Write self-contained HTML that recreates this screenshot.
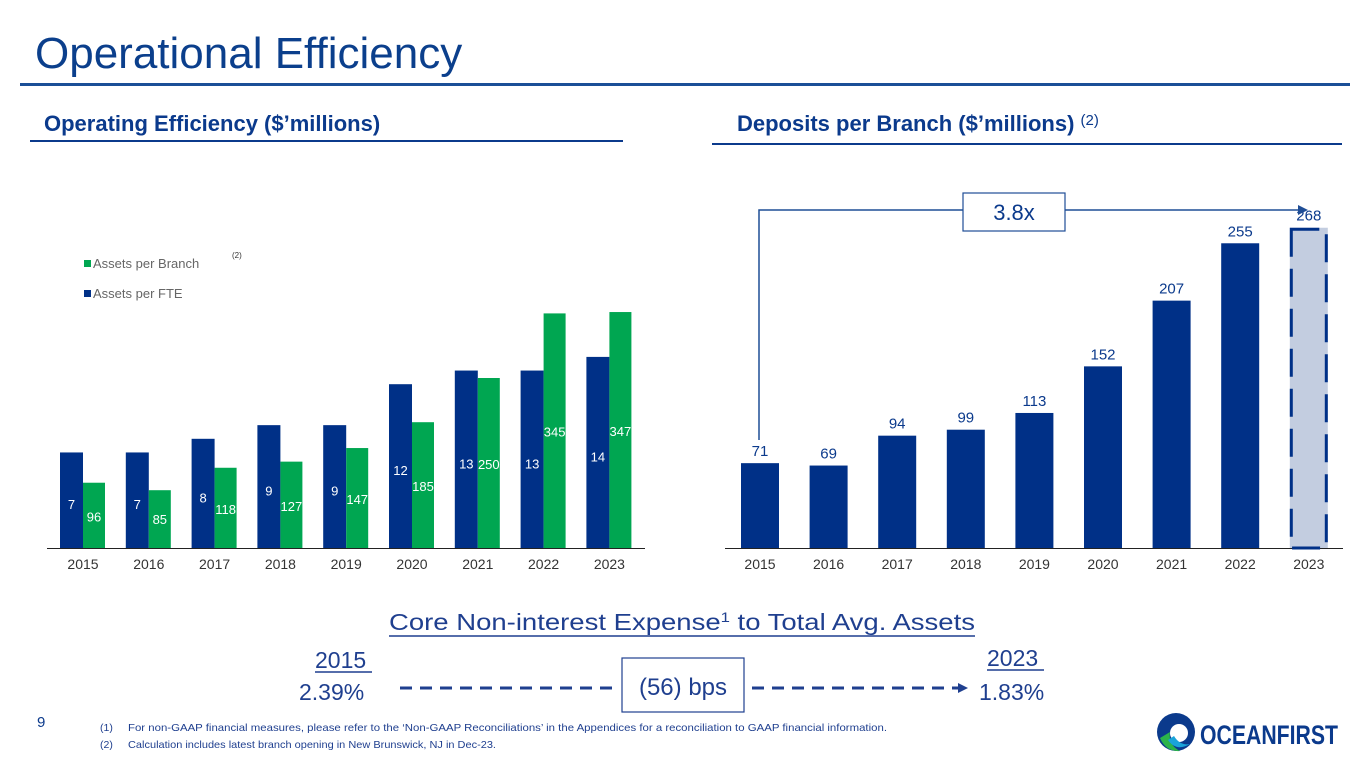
<!DOCTYPE html>
<html><head><meta charset="utf-8"><style>
body{margin:0;width:1365px;height:768px;overflow:hidden;background:#fff;font-family:"Liberation Sans",sans-serif;}
svg{position:absolute;left:0;top:0}
</style></head><body>
<svg width="1365" height="768" id="s" font-family="Liberation Sans, sans-serif">
<text x="35" y="68" font-size="44" fill="#0b3f8c">Operational Efficiency</text>
<rect x="20" y="83" width="1330" height="3" fill="#1b4f97"/>
<text x="44" y="131" font-size="22" font-weight="bold" fill="#0b3a8c">Operating Efficiency ($’millions)</text>
<rect x="30" y="140" width="593" height="2" fill="#0b3a8c"/>
<text x="737" y="131" font-size="22" font-weight="bold" fill="#0b3a8c">Deposits per Branch ($’millions) <tspan font-size="15" font-weight="normal" dy="-6">(2)</tspan></text>
<rect x="712" y="143" width="630" height="2" fill="#0b3a8c"/>

<g>
<rect x="84" y="260" width="7" height="7" fill="#00a651"/>
<text x="93" y="268" font-size="13" fill="#666">Assets per Branch</text>
<text x="232" y="258" font-size="8" fill="#333">(2)</text>
<rect x="84" y="290" width="7" height="7" fill="#003087"/>
<text x="93" y="298" font-size="13" fill="#666">Assets per FTE</text>
</g>
<g id="left"></g>
<g id="right"></g>

<g>
<polyline points="759,440 759,210 1300,210" fill="none" stroke="#1f4e96" stroke-width="1.5"/>
<polygon points="1308,210 1298,205 1298,215" fill="#1f4e96"/>
<rect x="963" y="193" width="102" height="38" fill="#fff" stroke="#1f4e96" stroke-width="1.2"/>
<text x="1014" y="220" font-size="22" fill="#0b3a8c" text-anchor="middle">3.8x</text>
</g>

<g>
<text x="389" y="630" font-size="23" fill="#1f3f8f" textLength="586" lengthAdjust="spacingAndGlyphs">Core Non-interest Expense<tspan font-size="14" dy="-8">1</tspan><tspan dy="8"> to Total Avg. Assets</tspan></text>
<line x1="389" y1="636" x2="975" y2="636" stroke="#1f3f8f" stroke-width="1.5"/>
<text x="315" y="668" font-size="23" fill="#1f3f8f">2015</text>
<line x1="315" y1="672" x2="372" y2="672" stroke="#1f3f8f" stroke-width="1.5"/>
<text x="299" y="700" font-size="23" fill="#1f3f8f">2.39%</text>
<text x="987" y="666" font-size="23" fill="#1f3f8f">2023</text>
<line x1="987" y1="670" x2="1044" y2="670" stroke="#1f3f8f" stroke-width="1.5"/>
<text x="979" y="700" font-size="23" fill="#1f3f8f">1.83%</text>
<line x1="400" y1="688" x2="620" y2="688" stroke="#1f3f8f" stroke-width="3" stroke-dasharray="12,8"/>
<line x1="752" y1="688" x2="958" y2="688" stroke="#1f3f8f" stroke-width="3" stroke-dasharray="12,8"/>
<polygon points="968,688 958,683 958,693" fill="#1f3f8f"/>
<rect x="622" y="658" width="122" height="54" fill="#fff" stroke="#1f3f8f" stroke-width="1.2"/>
<text x="683" y="695" font-size="24" fill="#1f3f8f" text-anchor="middle">(56) bps</text>
</g>

<text x="37" y="727" font-size="15" fill="#0b3a8c">9</text>
<text x="100" y="731" font-size="10.5" fill="#1f3f8f">(1)</text>
<text x="128" y="731" font-size="10.5" fill="#1f3f8f" textLength="759" lengthAdjust="spacingAndGlyphs">For non-GAAP financial measures, please refer to the ‘Non-GAAP Reconciliations’ in the Appendices for a reconciliation to GAAP financial information.</text>
<text x="100" y="748" font-size="10.5" fill="#1f3f8f">(2)</text>
<text x="128" y="748" font-size="10.5" fill="#1f3f8f" textLength="368" lengthAdjust="spacingAndGlyphs">Calculation includes latest branch opening in New Brunswick, NJ in Dec-23.</text>

<g>
<circle cx="1176" cy="732" r="19" fill="#0b3a8c"/>
<circle cx="1179" cy="733" r="9" fill="#fff"/>
<path d="M1160,738 Q1166,752 1180,751 Q1168,745 1170,732 Z" fill="#2bb34a"/>
<path d="M1168,740 Q1176,752 1190,744 Q1180,746 1174,736 Z" fill="#1aa3d9"/>
<text x="1200" y="744" font-size="27" font-weight="bold" fill="#0b3a8c" textLength="138" lengthAdjust="spacingAndGlyphs">OCEANFIRST</text>
</g>
</svg>
<script>
const years=["2015","2016","2017","2018","2019","2020","2021","2022","2023"];
const fteValues=[7,7,8,9,9,12,13,13,14];
const branchAssetValues=[96,85,118,127,147,185,250,345,347];
const depositValues=[71,69,94,99,113,152,207,255,268];
const NS="http://www.w3.org/2000/svg";
function mk(t,a,p){const e=document.createElementNS(NS,t);for(const k in a)e.setAttribute(k,a[k]);p.appendChild(e);return e;}
const base=548;
const L=document.getElementById('left');
const lx=i=>60+i*65.8;
const yF=v=>base-v*13.65;
const yB=v=>base-v*0.68;
mk('line',{x1:47,y1:base+0.5,x2:645,y2:base+0.5,stroke:'#222','stroke-width':1},L);
years.forEach((y,i)=>{
 const x=lx(i);
 const b=mk('rect',{x:x,y:yF(fteValues[i]),width:23,height:base-yF(fteValues[i]),fill:'#003087'},L);
 
 
 const g=mk('rect',{x:x+23,y:yB(branchAssetValues[i]),width:22,height:base-yB(branchAssetValues[i]),fill:'#00a651'},L);
 
 
 const fy=base-(base-yF(fteValues[i]))/2+9;
 const t1=mk('text',{x:x+11.5,y:fy,'font-size':13,fill:'#fff','text-anchor':'middle'},L);t1.textContent=fteValues[i];
 
 
 const gy=base-(base-yB(branchAssetValues[i]))/2+6;
 const t2=mk('text',{x:x+34,y:Math.min(gy,base-24),'font-size':13,fill:'#fff','text-anchor':'middle'},L);t2.textContent=branchAssetValues[i];
 
 
 const t3=mk('text',{x:x+23,y:569,'font-size':14,fill:'#333','text-anchor':'middle'},L);t3.textContent=y;
 
 
});
const R=document.getElementById('right');
const rx=i=>741+i*68.6;
const yD=v=>base-v*1.195;
mk('line',{x1:725,y1:base+0.5,x2:1343,y2:base+0.5,stroke:'#222','stroke-width':1},R);
years.forEach((y,i)=>{
 const x=rx(i),last=i===years.length-1;
 const b=mk('rect',{x:x,y:yD(depositValues[i]),width:38,height:base-yD(depositValues[i]),fill:last?'#c3cde0':'#003087'},R);
 
 
 if(last){mk('rect',{x:x+1.5,y:yD(depositValues[i])+1.5,width:35,height:base-yD(depositValues[i])-1.5,fill:'none',stroke:'#003087','stroke-width':3,'stroke-dasharray':'28,12'},R);}
 const t=mk('text',{x:x+19,y:yD(depositValues[i])-7,'font-size':15,fill:'#0b3a8c','text-anchor':'middle'},R);t.textContent=depositValues[i];
 
 
 const t3=mk('text',{x:x+19,y:569,'font-size':14,fill:'#333','text-anchor':'middle'},R);t3.textContent=y;
 
 
});
</script>
</body></html>
